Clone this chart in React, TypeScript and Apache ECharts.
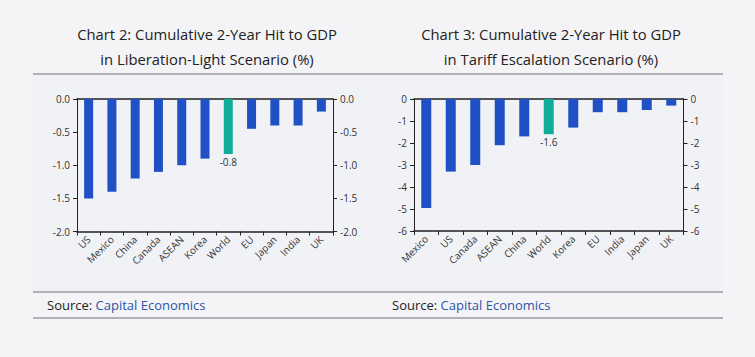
import React, { useEffect, useRef } from "react";
import * as echarts from "echarts";

const cats1 = ["US", "Mexico", "China", "Canada", "ASEAN", "Korea", "World", "EU", "Japan", "India", "UK"];
const vals1 = [-1.5, -1.4, -1.2, -1.1, -1.0, -0.9, -0.83, -0.45, -0.4, -0.4, -0.19];
const cats2 = ["Mexico", "US", "Canada", "ASEAN", "China", "World", "Korea", "EU", "India", "Japan", "UK"];
const vals2 = [-4.95, -3.3, -3.0, -2.1, -1.7, -1.6, -1.3, -0.6, -0.6, -0.5, -0.3];
const title1 = ["Chart 2: Cumulative 2-Year Hit to GDP", "in Liberation-Light Scenario (%)"];
const title2 = ["Chart 3: Cumulative 2-Year Hit to GDP", "in Tariff Escalation Scenario (%)"];

const BLUE = "#1f50c6";
const TEAL = "#11ad9b";
const AXIS = "#222";
const FONT = "Open Sans";

export default function App() {
  const ref = useRef<HTMLDivElement>(null);
  useEffect(() => {
    document.body.style.margin = "0";
    document.body.style.background = "#f4f4f6";
    const chart = echarts.init(ref.current!, null, { renderer: "svg" });
    const mkY = (gi: number, pos: "left" | "right", min: number, max: number, interval: number, dec: number) => ({
      type: "value",
      gridIndex: gi,
      position: pos,
      min,
      max,
      interval,
      axisLine: { show: true, lineStyle: { color: AXIS, width: 1 } },
      axisTick: { show: true, length: 4, lineStyle: { color: AXIS } },
      splitLine: { show: false },
      axisLabel: {
        color: "#333",
        fontSize: 10,
        fontFamily: FONT,
        margin: 7,
        formatter: (v: number) => (dec ? v.toFixed(dec) : String(v)),
      },
    });
    const mkXBottom = (gi: number, cats: string[]) => ({
      type: "category",
      gridIndex: gi,
      data: cats,
      position: "bottom",
      axisLine: { show: true, onZero: false, lineStyle: { color: AXIS, width: 1.5 } },
      axisTick: { show: true, length: 4, lineStyle: { color: AXIS } },
      axisLabel: { color: "#333", fontSize: 10, fontFamily: FONT, rotate: 45, margin: 6, interval: 0 },
    });
    const mkXTop = (gi: number, cats: string[]) => ({
      type: "category",
      gridIndex: gi,
      data: cats,
      position: "top",
      axisLine: { show: true, onZero: false, lineStyle: { color: AXIS, width: 1.5 } },
      axisTick: { show: false },
      axisLabel: { show: false },
    });
    const mkData = (cats: string[], vals: number[]) =>
      vals.map((v, i) =>
        cats[i] === "World"
          ? {
              value: v,
              itemStyle: { color: TEAL },
              label: {
                show: true,
                position: "bottom",
                distance: 3,
                color: "#333",
                fontSize: 10,
                fontFamily: FONT,
                formatter: (p: any) => p.value.toFixed(1),
              },
            }
          : { value: v }
      );
    const titleText = (lines: string[], x: number) =>
      lines.map((t, i) => ({
        type: "text",
        x,
        y: 34 + i * 25,
        style: { text: t, fill: "#222", font: `14.8px "${FONT}"`, textAlign: "center", textVerticalAlign: "middle" },
      }));
    const source = (x: number) => ({
      type: "text",
      x,
      y: 305,
      style: {
        text: "{a|Source: }{b|Capital Economics}",
        textVerticalAlign: "middle",
        rich: {
          a: { fill: "#222", fontSize: 13, fontFamily: FONT },
          b: { fill: "#2a56a8", fontSize: 13, fontFamily: FONT },
        },
      },
    });
    const hline = (y: number) => ({
      type: "line",
      shape: { x1: 33, y1: y, x2: 723, y2: y },
      style: { stroke: "#6e7079", lineWidth: 1 },
    });
    chart.setOption({
      animation: false,
      backgroundColor: "#f4f4f6",
      grid: [
        { left: 77, top: 99, width: 256, height: 132.5 },
        { left: 414, top: 99, width: 269.5, height: 132 },
      ],
      xAxis: [mkXBottom(0, cats1), mkXTop(0, cats1), mkXBottom(1, cats2), mkXTop(1, cats2)],
      yAxis: [
        mkY(0, "left", -2, 0, 0.5, 1),
        mkY(0, "right", -2, 0, 0.5, 1),
        mkY(1, "left", -6, 0, 1, 0),
        mkY(1, "right", -6, 0, 1, 0),
      ],
      series: [
        {
          type: "bar",
          xAxisIndex: 0,
          yAxisIndex: 0,
          barWidth: 9,
          itemStyle: { color: BLUE },
          data: mkData(cats1, vals1),
        },
        {
          type: "bar",
          xAxisIndex: 2,
          yAxisIndex: 2,
          barWidth: 10,
          itemStyle: { color: BLUE },
          data: mkData(cats2, vals2),
        },
      ],
      graphic: [
        { type: "rect", z: -10, shape: { x: 33, y: 74, width: 690, height: 218 }, style: { fill: "#f1f2f6" } },
        ...titleText(title1, 207),
        ...titleText(title2, 551),
        hline(74),
        hline(292),
        hline(318),
        source(47),
        source(392),
      ],
    });
    return () => chart.dispose();
  }, []);
  return <div ref={ref} style={{ position: "fixed", left: 0, top: 0, width: 755, height: 357 }} />;
}
